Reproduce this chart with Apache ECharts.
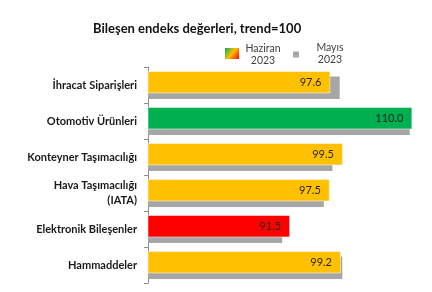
<!DOCTYPE html>
<html><head><meta charset="utf-8">
<script src="https://cdn.jsdelivr.net/npm/echarts@6/dist/echarts.min.js"></script>
<style>html,body{margin:0;padding:0;background:#fff}#c{width:432px;height:292px}</style>
</head><body><div id="c"></div>
<script>
const categories = ['İhracat Siparişleri','Otomotiv Ürünleri','Konteyner Taşımacılığı','Hava Taşımacılığı\n(IATA)','Elektronik Bileşenler','Hammaddeler'];
const haziran2023 = [97.6, 110.0, 99.5, 97.5, 91.5, 99.2];
const mayis2023 = [99.0, 109.6, 97.9, 96.6, 90.3, 99.4];
const barColors = ['#FFC000','#00B050','#FFC000','#FFC000','#FF0000','#FFC000'];
const FONT = 'Lato';

const chart = echarts.init(document.getElementById('c'), null, {renderer:'canvas'});
chart.setOption({
  animation:false,
  backgroundColor:'#fff',
  title:{text:'Bileşen endeks değerleri, trend=100', left:88, top:17,
    textStyle:{fontFamily:FONT, fontSize:13, fontWeight:'bold', color:'#111'}},
  grid:{left:148, top:67, height:216, right:6.4},
  xAxis:{type:'value', min:70, max:112, show:false},
  yAxis:{type:'category', data:categories, inverse:true,
    axisLine:{show:true, lineStyle:{color:'#8c8c8c', width:1}},
    axisTick:{show:true, length:4, lineStyle:{color:'#8c8c8c'}},
    axisLabel:{fontFamily:FONT, fontSize:11, fontWeight:'bold', color:'#1a1a1a', margin:11, align:'right', lineHeight:15}
  },
  series:[
    {name:'Haziran 2023', type:'bar', z:3, barWidth:22.5, barGap:'-75%',
     data:haziran2023.map((v,i)=>({value:v, itemStyle:{color:barColors[i]}})),
     itemStyle:{borderColor:'rgba(255,255,255,0.5)', borderWidth:1},
     label:{show:true, position:'insideRight', distance:9, formatter:p=>p.value.toFixed(1),
       fontFamily:FONT, fontSize:11, color:'#262626'}},
    {name:'Mayıs 2023', type:'bar', z:2, barWidth:22.5, barGap:'-75%',
     data:mayis2023, itemStyle:{color:'#A6A6A6'}}
  ],
  graphic:[
    {type:'rect', shape:{x:225, y:48, width:14, height:11},
     style:{fill:new echarts.graphic.LinearGradient(0,0,1,1,[{offset:0,color:'#00B050'},{offset:0.5,color:'#FFC000'},{offset:1,color:'#FF0000'}])}},
    {type:'text', x:263, y:55, style:{text:'Haziran\n2023', align:'center', verticalAlign:'middle', lineHeight:12,
      font:'10.5px '+FONT, fill:'#404040'}},
    {type:'rect', shape:{x:293, y:51.5, width:6, height:6}, style:{fill:'#A6A6A6'}},
    {type:'text', x:330, y:54, style:{text:'Mayıs\n2023', align:'center', verticalAlign:'middle', lineHeight:12,
      font:'10.5px '+FONT, fill:'#404040'}}
  ]
});
</script></body></html>
